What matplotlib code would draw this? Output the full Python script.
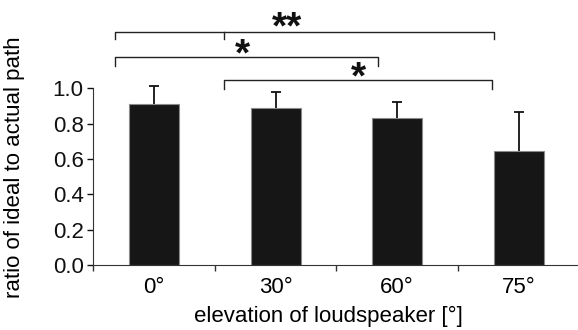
import matplotlib
matplotlib.use("Agg")
import matplotlib.pyplot as plt

plt.rcParams['font.family'] = ['Liberation Sans', 'DejaVu Sans']

# data
categories = ["0°", "30°", "60°", "75°"]
ratio = [0.911, 0.887, 0.834, 0.647]
err_up = [0.102, 0.090, 0.087, 0.221]

# significance brackets: (x_left, x_right, y_line, y_foot, label, x_label, y_label)
brackets = [
    (-0.318, 2.794, 1.320, 1.277, "**", 1.095, 1.340),
    (-0.318, 1.844, 1.179, 1.128, "*", 0.728, 1.188),
    (0.576, 2.783, 1.047, 0.994, "*", 1.679, 1.057),
]
extra_foot_x = 0.576  # small drop from the top bracket

fig = plt.figure(figsize=(5.78, 3.30), dpi=100)
ax = fig.add_axes([93.3 / 578, 65 / 330, (578 - 93.3) / 578, 265 / 330])

x = list(range(len(categories)))
ax.bar(x, ratio, width=0.41, color="#161616", edgecolor="#8a8a8a", linewidth=0.8, zorder=2)
eb = ax.errorbar(x, ratio, yerr=[[0] * len(err_up), err_up], fmt="none", ecolor="#111111",
                 elinewidth=1.3, capsize=3.5, capthick=1.3, zorder=1)
# only the upper cap is drawn in the original
eb[1][0].set_visible(False)

for xl, xr, yl, yf, lab, xt, yt in brackets:
    ax.plot([xl, xl, xr, xr], [yf, yl, yl, yf], color="#222222", lw=1.0, clip_on=False)
    ax.text(xt, yt, lab, ha="center", va="center", fontsize=28, fontweight="bold",
            color="#111111")
ax.plot([extra_foot_x, extra_foot_x], [brackets[0][2], brackets[0][3]], color="#222222", lw=1.0)

ax.set_xlim(-0.5, 3.488)
ax.set_ylim(0, 1.5)
ax.set_yticks([0, 0.2, 0.4, 0.6, 0.8, 1.0])
ax.set_yticklabels(["0.0", "0.2", "0.4", "0.6", "0.8", "1.0"])
ax.set_xticks([-0.5, 0.5, 1.5, 2.5])
ax.set_xticklabels([])
for xi, c in zip(x, categories):
    ax.text(xi, -0.125, c, ha="center", va="center", fontsize=16)

ax.spines["top"].set_visible(False)
ax.spines["right"].set_visible(False)
ax.spines["left"].set_bounds(0, 1.0)
ax.spines["left"].set_color("#333333")
ax.spines["bottom"].set_color("#333333")
ax.tick_params(axis="y", direction="out", length=4, width=1, labelsize=16, pad=3, colors="#111111")
ax.tick_params(axis="x", direction="out", length=4, width=1, colors="#333333")

fig.text(328 / 578, 1 - 316 / 330, "elevation of loudspeaker [°]", ha="center", va="center", fontsize=16)
fig.text(15 / 578, 1 - 167 / 330, "ratio of ideal to actual path", ha="center", va="center",
         rotation=90, fontsize=16)

fig.savefig("out.png", dpi=100)
